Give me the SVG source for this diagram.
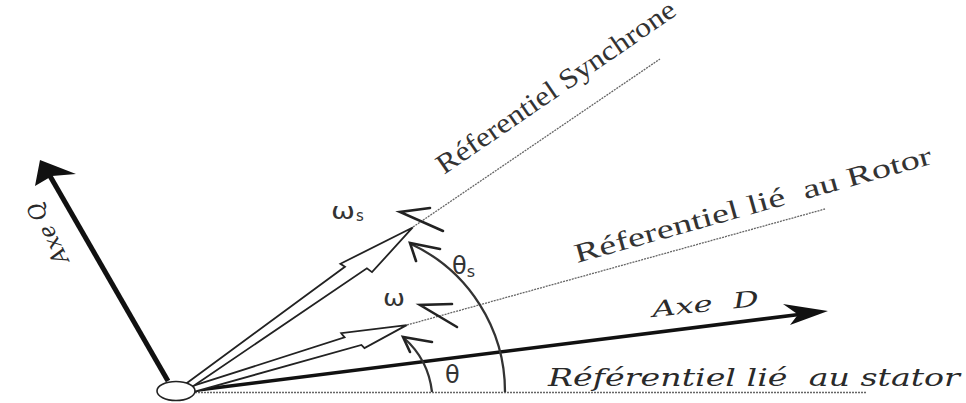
<svg xmlns="http://www.w3.org/2000/svg" width="966" height="403" viewBox="0 0 966 403">
<style>
.ref{stroke:#666;stroke-width:1.3;stroke-dasharray:2 1;fill:none}
.axis{stroke:#111;fill:none}
.hollow{fill:#fff;stroke:#222;stroke-width:1.8;stroke-linejoin:miter}
.chev{fill:none;stroke:#222;stroke-width:2.6;stroke-linecap:round;stroke-linejoin:miter}
.arc{fill:none;stroke:#333;stroke-width:2.3}
.lbl{font-family:"Liberation Serif","Times New Roman",serif;fill:#333}
.ital{font-family:"DejaVu Serif","Liberation Serif",serif;font-style:italic;fill:#2a2a2a}
.sym{font-family:"DejaVu Sans","Liberation Sans",sans-serif;fill:#333}
</style>
<rect width="966" height="403" fill="#fff"/>
<g id="connectors">
  <line class="ref" x1="195" y1="392.5" x2="866" y2="392.5"/>
  <line class="ref" x1="407" y1="325" x2="825" y2="209"/>
  <line class="ref" x1="413" y1="227" x2="660" y2="59"/>
  <line class="axis" x1="168" y1="381" x2="50" y2="176" stroke-width="5"/>
  <polygon points="40,160 35,186 52,176 76,174" fill="#111"/>
  <line class="axis" x1="190" y1="391" x2="799" y2="314.5" stroke-width="3.6"/>
  <polygon points="828,311 783,304 798,314.5 790,325" fill="#111"/>
  <g transform="translate(193,389) rotate(-16.65)">
    <path class="hollow" d="M0,-3 L160,-6 L158,-11 L223,0 L176,10 L174,6 L0,3 Z"/>
  </g>
  <g transform="translate(188,386) rotate(-35.2)">
    <path class="hollow" d="M0,-3 L197,-7 L195,-12 L275,0 L216,13 L214,7 L0,3 Z"/>
  </g>
  <path class="arc" d="M505,392 A163,163 0 0 0 411,244"/>
  <polyline class="chev" points="440,249 410,243 416,261"/>
  <path class="arc" d="M432,392 A85,85 0 0 0 404,338"/>
  <polyline class="chev" points="432,342 403,337 410,352"/>
  <polyline class="chev" points="430,208 400,212 443,231"/>
  <polyline class="chev" points="452,304 420,305 457,327"/>
</g>
<g id="origin">
  <ellipse cx="176" cy="391" rx="19" ry="9.5" fill="#fff" stroke="#222" stroke-width="1.6"/>
</g>
<g id="axe-q">
  <text class="ital" transform="translate(69,260) rotate(-116)" font-size="22" textLength="66" lengthAdjust="spacingAndGlyphs">Axe Q</text>
</g>
<g id="axe-d">
  <text class="ital" xml:space="preserve" transform="translate(653,317) rotate(-6)" font-size="22" textLength="107" lengthAdjust="spacingAndGlyphs">Axe  D</text>
</g>
<g id="ref-stator">
  <text class="ital" xml:space="preserve" x="548" y="386" font-size="25" textLength="412" lengthAdjust="spacingAndGlyphs">Référentiel lié  au stator</text>
</g>
<g id="ref-rotor">
  <text class="lbl" xml:space="preserve" transform="translate(577,263) rotate(-15.6)" font-size="27" textLength="370" lengthAdjust="spacingAndGlyphs">Réferentiel lié  au Rotor</text>
</g>
<g id="ref-synchrone">
  <text class="lbl" transform="translate(444,175) rotate(-34.5)" font-size="28" textLength="284" lengthAdjust="spacingAndGlyphs">Réferentiel Synchrone</text>
</g>
<g id="omega-s">
  <text class="sym" x="331" y="219" font-size="23" textLength="24" lengthAdjust="spacingAndGlyphs">ω</text>
  <text class="sym" x="356" y="221" font-size="15">s</text>
</g>
<g id="omega">
  <text class="sym" x="383" y="306" font-size="23" textLength="22" lengthAdjust="spacingAndGlyphs">ω</text>
</g>
<g id="theta-s">
  <text class="sym" x="452" y="274" font-size="24">θ<tspan font-size="16" dy="3">s</tspan></text>
</g>
<g id="theta">
  <text class="sym" x="445" y="383" font-size="24">θ</text>
</g>
</svg>
